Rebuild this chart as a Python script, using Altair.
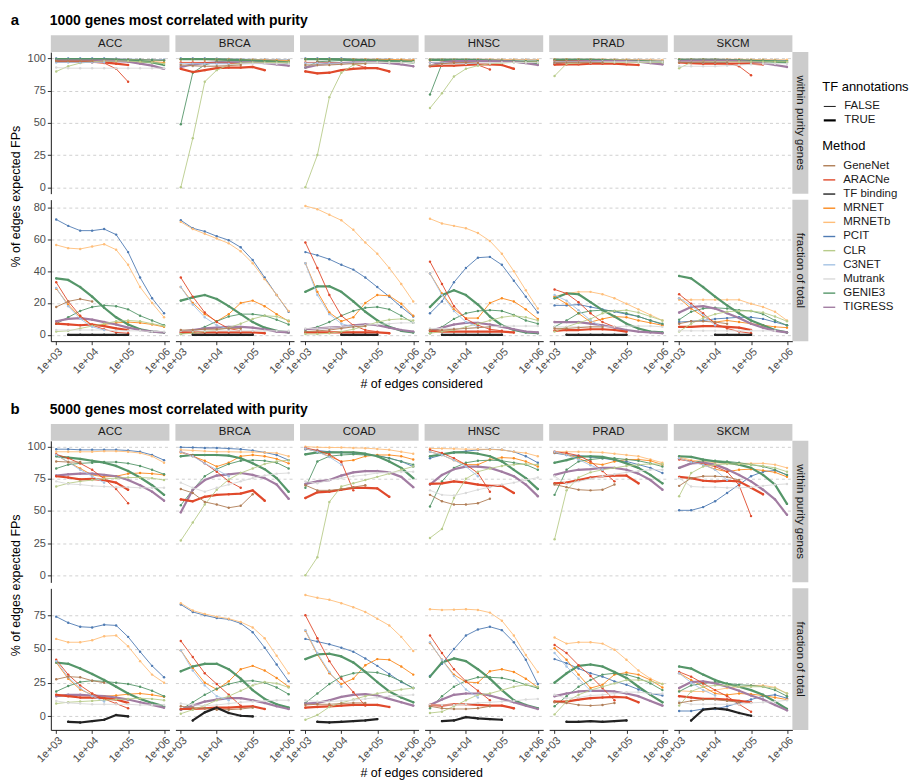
import altair as alt
import pandas as pd

# ---------------- data ----------------
EDGES = [1000, 2154, 4642, 10000, 21544, 46416, 100000, 215443, 464159, 1000000]
CANCERS = ["ACC", "BRCA", "COAD", "HNSC", "PRAD", "SKCM"]
METHODS = ["GeneNet", "ARACNe", "TF binding", "MRNET", "MRNETb", "PCIT",
           "CLR", "C3NET", "Mutrank", "GENIE3", "TIGRESS"]
METHOD_COLORS = ["#B07D56", "#E0492B", "#222222", "#FB8A1E", "#FFBE7A", "#4F7BB3",
                 "#B8CC8B", "#A5C3E4", "#D9D9D9", "#559669", "#A27CA2"]
TF_LEVELS = ["FALSE", "TRUE"]
SECTION_TITLES = {"a": "1000 genes most correlated with purity",
                  "b": "5000 genes most correlated with purity"}
ROW_LABELS = {"within": "within purity genes", "fraction": "fraction of total"}
Y_TICKS = {("a", "within"): [0, 25, 50, 75, 100], ("a", "fraction"): [0, 20, 40, 60, 80],
           ("b", "within"): [0, 25, 50, 75, 100], ("b", "fraction"): [0, 25, 50, 75]}
X_TICKS = [1000, 10000, 100000, 1000000]

# key "Method*" = TF annotations TRUE ; None = no value at that edge count
A_WITHIN_ACC = {
    "PCIT": [100, 100, 100, 100, 100, 99.8, 99.5, 99.3, 99, 99],
    "MRNETb": [99.5, 99.5, 99.5, 99.5, 99.5, 99.5, 99.3, 99, 98.8, 98.5],
    "MRNET": [98.5, 98.5, 98.5, 98.5, 98.5, 98, 98, 97.5, 97.5, 97],
    "GENIE3": [99.5, 99.5, 99.5, 99.5, 99.5, 99.3, 99, 99, 98.8, 98.5],
    "GENIE3*": [99.5, 99.5, 99.5, 99.5, 99.5, 99, 98.5, 98, 97, 95],
    "TIGRESS*": [98.5, 98.5, 98.5, 98.5, 98.5, 98, 97.5, 96, 94.5, 92],
    "ARACNe": [98, 97.5, 97, 97, 96.5, 92, 82],
    "ARACNe*": [97.5, 97.5, 97.5, 97.5, 97, 96, 95],
    "CLR": [90, 94, 96.5, 97.5, 98, 98, 98, 97.5, 97, 96],
    "Mutrank": [93, 92.5, 92.5, 92.5, 92.5, 92.5, 92.5, 92.5, 92.5, 92.5],
    "C3NET": [97, 97, 97, 97, 97],
    "GeneNet": [98, 98, 98, 98],
}
A_WITHIN_BRCA = {
    "PCIT": [100, 100, 100, 99.8, 99.7, 99.5, 99.3, 99.2, 99, 98.8],
    "MRNETb": [99.5, 99.5, 99.5, 99.5, 99.5, 99.3, 99.2, 99, 98.8, 98.5],
    "MRNET": [99.5, 99.5, 99.3, 99, 99, 98.8, 98.5, 98.5, 98.3, 98],
    "GENIE3": [49, 89, 95, 97.5, 98, 98, 98, 98, 98, 97.5],
    "GENIE3*": [99.5, 99.5, 99.5, 99.3, 99, 98.8, 98.5, 98, 97.5, 96.5],
    "TIGRESS*": [93.5, 95.5, 96.5, 97, 97, 97, 97, 96.5, 95.5, 94.5],
    "ARACNe": [97, 97, 97, 96.5, 96.5, 96],
    "ARACNe*": [92, 89.5, 91, 92.5, 93, 93, 93.5, 91],
    "CLR": [0, 38, 82, 91, 95, 96.5, 97, 97, 97, 97],
    "Mutrank": [95, 94, 94, 94.5, 95, 95.5, 96, 96, 96, 96],
    "C3NET": [96, 96, 96, 96, 96],
    "GeneNet": [95, 94.5, 94, 94, 94.5, 95],
}
A_WITHIN_COAD = {
    "PCIT": [100, 100, 100, 100, 99.5, 99.5, 99.5, 99.5, 99, 99],
    "MRNETb": [99.5, 99.5, 99.5, 99.5, 99.5, 99.5, 99.5, 99.3, 99.2, 99],
    "MRNET": [99.5, 99.5, 99.5, 99.3, 99.2, 99, 99, 99, 98.8, 98.5],
    "GENIE3": [93, 97.5, 98, 98.5, 98.5, 98.5, 98.5, 98.5, 98.3, 98],
    "GENIE3*": [99.5, 99.5, 99.5, 99.3, 99, 98.8, 98.5, 98, 97.5, 97],
    "TIGRESS*": [93, 95, 96, 96.5, 97, 97, 97, 96.5, 95.5, 94],
    "ARACNe": [97, 97, 97, 96.5, 96, 93],
    "ARACNe*": [90, 88.5, 89, 91, 92, 92.5, 92.5, 90],
    "CLR": [0, 25, 70, 89, 95, 96.5, 97, 97, 97, 97],
    "Mutrank": [95, 95, 95.5, 96, 96.5, 97, 97, 97, 97, 97],
    "C3NET": [96.5, 96.5, 96.5, 96.5, 96.5],
    "GeneNet": [95, 95, 95, 95.5, 96, 96],
}
A_WITHIN_HNSC = {
    "PCIT": [99.5, 99.5, 99.5, 99.5, 99.5, 99.3, 99.2, 99, 99, 98.8],
    "MRNETb": [99.5, 99.5, 99.5, 99.5, 99.5, 99.5, 99.3, 99.2, 99, 99],
    "MRNET": [98.5, 98.5, 98.5, 98.5, 98.3, 98, 98, 97.8, 97.5, 97.5],
    "GENIE3": [72, 96, 98, 98.5, 98.5, 98.5, 98.5, 98.3, 98, 98],
    "GENIE3*": [99, 99, 99, 99, 98.8, 98.5, 98, 97.5, 97, 96.5],
    "TIGRESS*": [94.5, 97, 98, 98, 98, 98, 97.8, 97.5, 96.5, 95],
    "ARACNe": [97, 97, 97, 96.5, 95, 91.5],
    "ARACNe*": [94, 94.5, 94.5, 95, 95.5, 95.5, 95, 92],
    "CLR": [61.5, 73, 86, 92, 94.5, 96, 96.5, 97, 97, 97],
    "Mutrank": [95, 95.5, 96, 96, 96.5, 96.5, 97, 97, 97, 97],
    "C3NET": [97, 97, 96.5, 96.5, 96],
    "GeneNet": [94.5, 96, 96.5, 97, 96.5],
}
A_WITHIN_PRAD = {
    "PCIT": [99.5, 99.5, 99.5, 99.5, 99.3, 99.2, 99, 99, 98.8, 98.5],
    "MRNETb": [99.5, 99.5, 99.5, 99.5, 99.5, 99.3, 99.2, 99, 99, 98.8],
    "MRNET": [99, 99, 99, 98.8, 98.5, 98.5, 98.3, 98, 98, 97.5],
    "GENIE3": [96, 97, 97.5, 98, 98, 98, 98, 98, 98, 97.5],
    "GENIE3*": [99, 99, 99, 99, 98.8, 98.5, 98.3, 98, 97.5, 97],
    "TIGRESS*": [96.5, 97.5, 98, 98, 98, 98, 98, 97.5, 96.5, 95.5],
    "ARACNe": [98, 98, 98, 97.5, 97, 96],
    "ARACNe*": [95.3, 95.5, 95.5, 96, 96, 96, 95.5, 95],
    "CLR": [86.5, 96, 96.5, 97, 97, 97, 97, 97, 97, 97],
    "Mutrank": [97, 97, 97, 97, 97.5, 97.5, 97.5, 97.5, 97.5, 97.5],
    "C3NET": [97.5, 97.5, 97.5, 97.5, 97.5],
    "GeneNet": [97, 97, 97, 97, 97],
}
A_WITHIN_SKCM = {
    "PCIT": [99.5, 99.5, 99.5, 99.5, 99.3, 99.2, 99, 99, 98.8, 98.5],
    "MRNETb": [99.5, 99.5, 99.5, 99.5, 99.5, 99.5, 99.3, 99.2, 99, 99],
    "MRNET": [99, 99, 99, 98.8, 98.5, 98.5, 98.3, 98, 97.8, 97.5],
    "GENIE3": [99, 99, 99, 99, 98.8, 98.8, 98.5, 98.5, 98.3, 98],
    "GENIE3*": [99, 99, 99, 99, 98.8, 98.5, 98.3, 98, 97.5, 97],
    "TIGRESS*": [98, 98.5, 98.5, 98.5, 98.5, 98, 97.5, 96.5, 95, 93.5],
    "ARACNe": [97.5, 97.5, 97.5, 97, 96.5, 94, 87],
    "ARACNe*": [97, 96.5, 96, 96, 96, 96, 96, 95.5],
    "CLR": [92.5, 97, 97.5, 97.5, 97.5, 97.5, 97.5, 97.5, 97.5, 97.5],
    "Mutrank": [94, 94, 94, 94, 94.5, 95, 95.5, 96, 96, 96],
    "C3NET": [97.5, 97.5, 97, 97, 97],
    "GeneNet": [97, 97, 97, 97, 97],
}
A_FRACTION_ACC = {
    "PCIT": [72.5, 68.5, 65.5, 65.5, 66.5, 63, 52, 36, 23, 13.5],
    "MRNETb": [56.5, 54.5, 54, 55.5, 57, 53.5, 44, 30, 20, 11],
    "MRNET": [29, 19, 11, 6, 6.5, 7.5, 8, 7.5, 6.5, 5],
    "GENIE3": [7, 11, 15, 17.5, 18.5, 18, 16, 12, 9, 6],
    "GENIE3*": [35.5, 34.5, 30, 24, 17, 11, 6.5, 3.5, 2, 1.5],
    "TIGRESS*": [8.5, 10, 10.5, 9.5, 8, 6.5, 4.5, 3, 2, 1.5],
    "ARACNe": [33, 21, 12, 6, 3.5, 1.5, 1],
    "ARACNe*": [7, 6.5, 6, 6.5, 5.5, 4, 3],
    "CLR": [2, 2.5, 4, 5.5, 7, 8.5, 9, 8.5, 7, 5.5],
    "Mutrank": [3, 3, 3, 3, 3, 2.5, 2.5, 2.5, 2, 2],
    "C3NET": [29.5, 18, 10, 5, 3],
    "GeneNet": [17.5, 21, 22.5, 21],
    "TF binding*": [None, 0, 0, 0, 0, 0, 0],
}
A_FRACTION_BRCA = {
    "PCIT": [72, 67, 65, 62, 59.5, 55, 47, 36, 25, 14.5],
    "MRNETb": [71, 66.5, 63.5, 60.5, 57.5, 52.5, 45, 35, 25, 15],
    "MRNET": [30, 20, 13, 8.5, 13, 20, 21.5, 18, 13, 8.5],
    "GENIE3": [0.5, 2, 5, 8.5, 11.5, 13, 13, 12, 9.5, 6.5],
    "GENIE3*": [21.5, 23.5, 25, 22.5, 18, 13, 8, 4.5, 2.5, 1.5],
    "TIGRESS*": [2, 3, 4, 4.5, 5, 5, 4.5, 3.5, 2, 1.5],
    "ARACNe": [36, 24, 14, 8, 4, 2.5],
    "ARACNe*": [1.5, 1.5, 1.5, 1.5, 1.5, 1.5, 1.5, 1],
    "CLR": [0.5, 1, 2, 3, 4.5, 7, 10, 12, 11.5, 9],
    "Mutrank": [2.5, 2.5, 2.5, 2.5, 2.5, 2.5, 2.5, 2.5, 2.5, 2.5],
    "C3NET": [30, 19, 11, 6, 3.5],
    "GeneNet": [3, 3, 3.5, 3.5, 4, 4],
    "TF binding*": [None, 0, 0, 0, 0, 0, 0],
}
A_FRACTION_COAD = {
    "PCIT": [52, 50, 47.5, 44, 41, 36, 30, 24, 17.5, 11.5],
    "MRNETb": [81, 79, 75.5, 72, 66, 58, 51, 42, 32, 21],
    "MRNET": [45, 27, 14, 8.5, 11, 20, 25, 24.5, 19.5, 12],
    "GENIE3": [3, 5, 8, 12, 15, 17, 17.5, 16, 12, 7.5],
    "GENIE3*": [27, 30.5, 30.5, 27, 21, 14.5, 9, 5, 2.5, 1.5],
    "TIGRESS*": [3.5, 4, 4.5, 5, 6, 6.5, 6, 4.5, 3, 2],
    "ARACNe": [58, 42, 25, 12, 6, 3, 2],
    "ARACNe*": [1.5, 1.5, 1.5, 1.5, 1.5, 1.5, 1.5, 1],
    "CLR": [0.5, 0.5, 1, 2, 3.5, 5.5, 8, 9.5, 10, 9],
    "Mutrank": [4, 4, 4.5, 5, 5.5, 6, 6.5, 7, 7.5, 7.5],
    "C3NET": [45, 25, 13, 7, 5],
    "GeneNet": [2, 2.5, 3, 4, 5, 5.5],
    "TF binding*": [None, None, None, 0, 0, 0, 0],
}
A_FRACTION_HNSC = {
    "PCIT": [13.5, 21, 33, 42, 48.5, 49, 44, 34, 24, 14],
    "MRNETb": [73, 70, 68.5, 67, 64, 59, 51, 40, 28, 16.5],
    "MRNET": [38.5, 26, 16, 10.5, 10.5, 20, 23, 21, 16, 10],
    "GENIE3": [1, 5, 10, 13.5, 15, 15.5, 15, 12.5, 9, 7],
    "GENIE3*": [17.5, 25, 28, 25, 19, 11.5, 6, 3, 1.5, 1],
    "TIGRESS*": [2.5, 4.5, 6.5, 7.5, 7.5, 6.5, 5, 3.5, 2, 1.5],
    "ARACNe": [46, 32, 18, 10, 6, 3.5, 2.5],
    "ARACNe*": [2.5, 2, 2, 2, 2, 2, 2, 1.5],
    "CLR": [1, 2, 3, 5, 7, 9, 11, 12, 11, 9],
    "Mutrank": [4, 4, 4, 4, 4.5, 5, 5.5, 5.5, 5.5, 5.5],
    "C3NET": [38.5, 25, 15, 8, 5],
    "GeneNet": [3, 3, 3.5, 4, 4.5, 5],
    "TF binding*": [None, 0, 0, 0, 0, 0, 0],
}
A_FRACTION_PRAD = {
    "PCIT": [18.5, 18.5, 19, 17.5, 16, 14.5, 13, 11.5, 9, 6.5],
    "MRNETb": [24, 26, 27, 27, 25.5, 23, 19.5, 16, 12.5, 9],
    "MRNET": [24, 19.5, 13.5, 8, 10, 11.5, 11, 9, 7.5, 6],
    "GENIE3": [5, 9, 13.5, 15, 15.5, 15, 13.5, 11.5, 9, 7],
    "GENIE3*": [23, 26, 25.5, 20.5, 15.5, 11.5, 7, 4, 2, 1.5],
    "TIGRESS*": [8, 8, 8, 7, 6, 4.5, 3, 2, 1.5, 1],
    "ARACNe": [28.5, 26, 20.5, 13.5, 8, 5],
    "ARACNe*": [2.5, 3, 3, 3.5, 3.5, 3, 2],
    "CLR": [2, 5, 7.5, 10, 13.5, 15, 15.5, 14, 11.5, 9],
    "Mutrank": [5, 5, 5, 5, 5, 5, 5.5, 5.5, 5.5, 5],
    "C3NET": [25, 21.5, 15.5, 9, 5],
    "GeneNet": [4, 4, 4.5, 5, 5],
    "TF binding*": [None, 0, 0, 0, 0, 0, 0],
}
A_FRACTION_SKCM = {
    "PCIT": [8, 8.5, 9, 10, 10.5, 11, 11, 10, 8, 6],
    "MRNETb": [22, 22, 22, 22, 22, 22, 19.5, 17.5, 14.5, 9],
    "MRNET": [23, 16.5, 11.5, 8, 9, 8, 7, 6, 5, 4.5],
    "GENIE3": [9.5, 14.5, 16.5, 17, 16.5, 15.5, 15, 13, 9, 6],
    "GENIE3*": [37, 35.5, 30, 24, 18.5, 13.5, 9, 6, 3, 1.5],
    "TIGRESS*": [14, 17.5, 18, 16.5, 13.5, 10.5, 7, 4.5, 2.5, 1.5],
    "ARACNe": [25.5, 19.5, 13.5, 7, 4, 2, 1],
    "ARACNe*": [5, 5, 5.5, 5.5, 5, 4.5, 3],
    "CLR": [2, 7, 10.5, 13, 14.5, 15, 15, 14, 11.5, 8.5],
    "Mutrank": [2.5, 2.5, 2.5, 2.5, 2.5, 2.5, 2.5, 2.5, 2.5],
    "C3NET": [23, 18.5, 12.5, 6],
    "GeneNet": [7, 8.5, 8.5, 8, 7],
    "TF binding*": [None, None, None, 0, 0, 0, 0],
}
B_WITHIN_ACC = {
    "PCIT": [98, 98, 97.5, 97.5, 97.5, 97.5, 97, 96, 93.5, 89.5],
    "MRNETb": [96, 96, 96, 96, 96.5, 96.5, 96, 95, 92.5, 87.5],
    "MRNET": [93.5, 88, 83, 78, 76.5, 77, 79, 79.5, 79, 78],
    "GENIE3": [83, 86, 87, 87.5, 88, 88, 87, 85, 82, 78.5],
    "GENIE3*": [92.5, 91.5, 90.5, 89, 87.5, 85, 81, 76, 70, 62.5],
    "TIGRESS*": [77.5, 78.5, 79, 79, 78, 77, 74, 70, 65, 58],
    "ARACNe": [94, 91, 87, 82, 75, 67, 56],
    "ARACNe*": [77, 76, 74.5, 75, 74, 72, 66.5],
    "CLR": [69, 71.5, 73, 74, 75, 75.5, 76, 76, 75.5, 74],
    "Mutrank": [73, 71, 70.5, 69.5, 69, 68.5, 68.5, 68, 68, 68],
    "C3NET": [93.5, 88, 82, 77, 72],
    "GeneNet": [88.5, 88, 88],
}
B_WITHIN_BRCA = {
    "PCIT": [99.5, 99.3, 99, 99, 98.5, 98, 97, 95.5, 93.5, 89.5],
    "MRNETb": [97.5, 97, 96.5, 96, 96, 95.8, 95.8, 95.5, 95, 92.5],
    "MRNET": [95.5, 92.5, 89, 84.5, 87.5, 92.5, 93.5, 92.5, 90.5, 87],
    "GENIE3": [54.5, 66.5, 77, 82.5, 86.5, 89, 89.5, 89, 87.5, 83],
    "GENIE3*": [92.5, 93.5, 93.5, 93.5, 93, 91, 87, 82.5, 75.5, 65],
    "TIGRESS*": [49, 66.5, 74, 77.5, 78.5, 79.5, 78, 75.5, 70.5, 59.5],
    "ARACNe": [96, 93, 87, 80.5, 73, 68],
    "ARACNe*": [59, 57.5, 61, 62.5, 63, 63.5, 66, 58],
    "CLR": [27, 41, 55, 66.5, 74.5, 79.5, 83, 86.5, 88.5, 89.5],
    "Mutrank": [72, 68, 65, 68, 70.5, 73, 75.5, 77.5, 79, 79.5],
    "C3NET": [96, 92.5, 87, 82, 77],
    "GeneNet": [67, 64, 57, 55, 52.5, 54, 63],
}
B_WITHIN_COAD = {
    "PCIT": [98, 97, 96, 95.5, 95, 94, 93, 91, 88.5, 84.5],
    "MRNETb": [100, 99.5, 99.3, 99.3, 99, 98.8, 98.2, 97.5, 96, 94.5],
    "MRNET": [98.5, 96, 92.5, 88.5, 89.5, 92.5, 93.5, 93.5, 92.5, 90],
    "GENIE3": [68, 88.5, 92.5, 93.5, 94, 93.5, 93, 91, 88.5, 86],
    "GENIE3*": [94, 95.5, 95.5, 95.5, 95.5, 94.5, 92.5, 88.5, 83.5, 75.5],
    "TIGRESS*": [71, 73, 74, 77.5, 80, 81, 81, 80, 76.5, 68.5],
    "ARACNe": [99, 97, 94, 88, 66],
    "ARACNe*": [60, 64.5, 65, 66.5, 68, 68, 67.5, 61],
    "CLR": [0, 14, 57, 69, 71.5, 74, 76.5, 79, 82, 84.5],
    "Mutrank": [73, 71.5, 74, 75.5, 77, 78, 79.5, 80, 80.5, 80.5],
    "C3NET": [98.5, 96, 92, 86],
    "GeneNet": [70, 66, 66, 67, 68.5, 70],
}
B_WITHIN_HNSC = {
    "PCIT": [91, 93.5, 95.5, 96.5, 97.5, 98, 97.5, 96, 92.5, 87.5],
    "MRNETb": [98.5, 98.5, 98.3, 98, 98, 97.8, 97.5, 96, 95, 92.5],
    "MRNET": [96, 93.5, 89.5, 86, 86, 90, 91.5, 91, 88.5, 84.5],
    "GENIE3": [53.5, 73, 83.5, 87.5, 89, 89.5, 89, 87.5, 86, 82],
    "GENIE3*": [92.5, 94, 95.5, 95.5, 94.5, 92.5, 88.5, 82, 75.5, 67],
    "TIGRESS*": [70.5, 78, 82.5, 84.5, 84.5, 83.5, 80.5, 77, 70.5, 61.5],
    "ARACNe": [97.5, 95, 91, 86, 79.5, 65],
    "ARACNe*": [71, 71.5, 73, 72, 70.5, 69.5, 69.5, 64],
    "CLR": [29, 36, 60, 75, 80.5, 83, 85, 86, 86.5, 86],
    "Mutrank": [66, 62.5, 62, 64, 66.5, 68.5, 70.5, 72, 74, 76],
    "C3NET": [96, 93.5, 89.5, 84.5, 77],
    "GeneNet": [62.5, 57.5, 55, 55, 56, 59.5],
}
B_WITHIN_PRAD = {
    "PCIT": [95, 93.5, 93, 92, 91, 89.5, 88.5, 86, 83.5, 79.5],
    "MRNETb": [96, 96, 96, 95.8, 95.5, 94.5, 93.5, 92.5, 90, 87.5],
    "MRNET": [95.5, 94, 91, 87, 86, 88.5, 90, 90, 89, 86],
    "GENIE3": [62.5, 82, 88.5, 90, 91, 91, 90, 89, 87, 84.5],
    "GENIE3*": [87.5, 89.5, 92, 92.5, 92, 90, 87, 83.5, 78, 71.5],
    "TIGRESS*": [78, 80.5, 82, 82.5, 83.5, 83.5, 82, 79, 74, 66.5],
    "ARACNe": [96, 95, 93, 88.5, 81, 73],
    "ARACNe*": [71.5, 72, 74, 76, 77, 77.5, 77.5, 71.5],
    "CLR": [28, 66, 76, 80, 82, 83.5, 85, 86, 86.5, 86.5],
    "Mutrank": [77, 71, 73, 75, 77, 78.5, 80, 81, 82, 82],
    "C3NET": [96, 93.5, 90, 85.5, 82],
    "GeneNet": [70.5, 68.5, 66.5, 66, 66.5, 70.5],
}
B_WITHIN_SKCM = {
    "PCIT": [50.5, 50.5, 53, 57.5, 64, 70.5, 77, 80.5, 81.5, 78],
    "MRNETb": [92, 89.5, 88.5, 87.5, 87, 87, 87, 87, 86, 83.5],
    "MRNET": [91, 88.5, 86, 82.5, 80.5, 82, 82.5, 81.5, 80, 76.5],
    "GENIE3": [83.5, 87.5, 89, 89, 88.5, 87.5, 86, 84.5, 82, 78],
    "GENIE3*": [92.5, 92, 90, 88.5, 87.5, 86, 83.5, 78, 70.5, 55.5],
    "TIGRESS*": [83.5, 87, 87.5, 86, 82.5, 78, 73, 66.5, 59, 47],
    "ARACNe": [90, 88.5, 86.5, 84.5, 80.5, 70, 46],
    "ARACNe*": [76.5, 75.5, 73.5, 73, 73.5, 73, 68, 63],
    "CLR": [61.5, 79.5, 84.5, 86, 86.5, 86.5, 86, 85, 83.5, 80.5],
    "Mutrank": [75.5, 69, 68.5, 68.5, 68, 68, 68.5, 69.5, 70.5, 71],
    "C3NET": [91, 88, 86, 82, 74],
    "GeneNet": [69.5, 75.5, 77, 77, 76.5, 74],
}
B_FRACTION_ACC = {
    "PCIT": [74, 69.5, 66.5, 66, 68, 67.5, 59, 48, 37.5, 29],
    "MRNETb": [57.5, 55, 55, 56.5, 59.5, 60, 52, 41, 31, 25],
    "MRNET": [40, 28, 20, 16, 15, 15.5, 16.5, 17, 16, 14.5],
    "GENIE3": [18.5, 22.5, 25.5, 26.5, 26, 25, 24, 22, 19, 15],
    "GENIE3*": [40, 39, 35.5, 31.5, 27, 22, 17, 13, 10, 7.5],
    "TIGRESS*": [15, 16, 16, 15.5, 15, 14, 12.5, 10.5, 8.5, 6.5],
    "ARACNe": [42, 31, 23, 17, 13, 9.5, 6],
    "ARACNe*": [16, 15, 14, 14, 13.5, 12.5, 10],
    "CLR": [9.5, 10.5, 11, 11.5, 12, 12.5, 13, 13.5, 13, 12],
    "Mutrank": [11.5, 10, 9.5, 9, 9, 9, 9, 8.5, 8.5, 8.5],
    "C3NET": [41, 29, 21, 15, 11],
    "GeneNet": [27.5, 29.5, 29, 26.5, 25],
    "TF binding*": [None, -4, -4.5, -3.5, -2.5, 1, 0],
}
B_FRACTION_BRCA = {
    "PCIT": [83, 77.5, 75, 73, 72, 69, 62.5, 51, 38.5, 26],
    "MRNETb": [84, 78.5, 76, 74, 72.5, 70, 66, 58, 45, 32],
    "MRNET": [49, 36, 25, 20, 26, 35, 37.5, 34, 28.5, 22],
    "GENIE3": [5, 10.5, 16, 20.5, 24, 26, 26.5, 25, 21.5, 16.5],
    "GENIE3*": [33.5, 37, 39, 39, 35, 28, 19.5, 13, 9, 6.5],
    "TIGRESS*": [5, 8, 11, 12.5, 13.5, 13.5, 12, 10, 7.5, 5.5],
    "ARACNe": [56, 44, 32, 24, 16, 8],
    "ARACNe*": [5.5, 5.5, 6, 6.5, 6.5, 7, 7.5, 5.5],
    "CLR": [2, 5, 8, 12, 15, 19, 23, 25.5, 24.5, 21.5],
    "Mutrank": [9.5, 8.5, 8, 8.5, 9.5, 10.5, 11, 11.5, 12, 12],
    "C3NET": [49, 34, 23, 15, 12],
    "GeneNet": [7.5, 6.5, 6, 5, 5, 5.5, 6.5],
    "TF binding*": [None, -3, 3, 6.5, 2.5, 0.5, 0],
}
B_FRACTION_COAD = {
    "PCIT": [57.5, 55.5, 53.5, 51, 48, 43, 37.5, 31.5, 25.5, 21],
    "MRNETb": [90, 88, 86.5, 84, 81, 77.5, 72.5, 67.5, 59, 48.5],
    "MRNET": [63.5, 46, 32, 24, 28, 38, 42.5, 42, 37, 31],
    "GENIE3": [10, 17, 24, 29.5, 32, 33, 32.5, 30, 26, 21],
    "GENIE3*": [42.5, 46, 46.5, 44.5, 40, 33, 25.5, 18.5, 14, 10.5],
    "TIGRESS*": [9.5, 10, 12, 14.5, 16, 16.5, 15.5, 13, 10.5, 8],
    "ARACNe": [75, 58, 41, 28, 18, 8],
    "ARACNe*": [6.5, 7, 7.5, 8, 8.5, 8.5, 8.5, 7],
    "CLR": [-2.5, 1, 7, 10, 12.5, 15, 17, 18.5, 20, 21],
    "Mutrank": [12, 11, 11, 11.5, 12, 13, 14, 15, 15.5, 16],
    "C3NET": [64, 47, 33, 22],
    "GeneNet": [8.5, 9, 9, 9.5, 10, 10],
    "TF binding*": [None, -4, -4.5, -4, -3.5, -3, -2],
}
B_FRACTION_HNSC = {
    "PCIT": [30, 39, 50, 60, 64.5, 66.5, 64, 55, 42, 24],
    "MRNETb": [79.5, 79, 79.2, 79.5, 79, 77, 71, 60, 45.5, 33],
    "MRNET": [54.5, 42, 31, 25.5, 25, 33.5, 35, 33, 28, 21.5],
    "GENIE3": [6, 15, 22, 26.5, 29, 29, 28.5, 26.5, 23.5, 21],
    "GENIE3*": [29.5, 40, 43, 41, 35, 28, 19.5, 12, 8.5, 6],
    "TIGRESS*": [8.5, 12.5, 16, 17, 17, 15.5, 13, 10.5, 8, 5.5],
    "ARACNe": [60, 47, 35, 26, 19, 12],
    "ARACNe*": [8.5, 8, 9, 9, 8.5, 8, 8, 6],
    "CLR": [2.5, 3.5, 7.5, 12, 16, 17, 19.5, 22, 23.5, 22],
    "Mutrank": [8.5, 8.5, 8.5, 9, 10, 10.5, 11, 11.5, 12.5, 13],
    "C3NET": [55, 42, 30, 20, 14],
    "GeneNet": [7.5, 6, 5.5, 5.5, 6, 7.5],
    "TF binding*": [None, -3.5, -3, -0.5, -1.5, -2, -2.5],
}
B_FRACTION_PRAD = {
    "PCIT": [42.5, 39.5, 35.5, 32, 29.5, 26, 23.5, 20, 17, 15.5],
    "MRNETb": [58.5, 54, 55, 55, 54, 49.5, 42, 34, 28, 24],
    "MRNET": [50.5, 42, 31, 21, 23.5, 31, 32.5, 31, 27, 21.5],
    "GENIE3": [7.5, 15, 22, 27, 31, 32, 31, 28.5, 24.5, 19.5],
    "GENIE3*": [25, 32, 37.5, 38.5, 37, 33, 28.5, 22, 16, 10.5],
    "TIGRESS*": [15, 17, 18.5, 19, 19, 18.5, 17, 15, 11.5, 8],
    "ARACNe": [53, 47, 38, 30, 21, 12],
    "ARACNe*": [11, 11, 12.5, 13.5, 14, 14.5, 14, 10.5],
    "CLR": [1.5, 11, 16, 19.5, 22, 24.5, 27, 27, 26, 24],
    "Mutrank": [16, 13.5, 14, 15.5, 16, 17, 18, 18, 17, 17],
    "C3NET": [47, 37, 28, 19],
    "GeneNet": [10.5, 10, 8.5, 8, 8.5, 10],
    "TF binding*": [None, -4, -4, -3.5, -4, -3.5, -3],
}
B_FRACTION_SKCM = {
    "PCIT": [4, 4, 5.5, 5.5, 7.5, 10, 12.5, 15, 16, 13.5],
    "MRNETb": [19, 18.5, 18.5, 19.5, 21, 22, 23, 23, 21.5, 17],
    "MRNET": [32, 27, 22, 17, 16, 17, 16.5, 15.5, 14, 12.5],
    "GENIE3": [18.5, 23, 24.5, 25.5, 24.5, 23.5, 23, 22, 19.5, 15],
    "GENIE3*": [37, 35.5, 31, 27, 24, 22, 19.5, 16, 11, 5.5],
    "TIGRESS*": [21, 25.5, 26, 24.5, 22, 19, 15.5, 12.5, 8.5, 4.5],
    "ARACNe": [33, 29.5, 24.5, 19.5, 15, 9, 3.5],
    "ARACNe*": [15, 14, 13, 13, 12.5, 11.5, 10.5],
    "CLR": [8, 18.5, 22, 23, 23, 22, 22, 22, 21, 17],
    "Mutrank": [11, 9, 9, 9, 9, 9, 10, 10.5, 11, 12],
    "C3NET": [32, 25, 19.5, 15.5],
    "GeneNet": [10, 11.5, 12.5, 12.5, 11.5, 10.5],
    "TF binding*": [None, -3, 5, 6, 5, 2.5, 0.5],
}

PANEL_DATA = {
    ("a", "within"): [A_WITHIN_ACC, A_WITHIN_BRCA, A_WITHIN_COAD, A_WITHIN_HNSC, A_WITHIN_PRAD, A_WITHIN_SKCM],
    ("a", "fraction"): [A_FRACTION_ACC, A_FRACTION_BRCA, A_FRACTION_COAD, A_FRACTION_HNSC, A_FRACTION_PRAD, A_FRACTION_SKCM],
    ("b", "within"): [B_WITHIN_ACC, B_WITHIN_BRCA, B_WITHIN_COAD, B_WITHIN_HNSC, B_WITHIN_PRAD, B_WITHIN_SKCM],
    ("b", "fraction"): [B_FRACTION_ACC, B_FRACTION_BRCA, B_FRACTION_COAD, B_FRACTION_HNSC, B_FRACTION_PRAD, B_FRACTION_SKCM],
}

# ---------------- layout / style ----------------
FONT = "Liberation Sans"
W, H = 119, 142
Y_DOMAINS = {("a", "within"): [-5, 105], ("a", "fraction"): [-4, 85],
             ("b", "within"): [-5.5, 104.5], ("b", "fraction"): [-10, 95]}
X_DOMAIN = [10 ** 2.85, 10 ** 6.15]
ONE = pd.DataFrame({"k": [0]})


def series_frame(d):
    rows = []
    for key, vals in d.items():
        tf = "TRUE" if key.endswith("*") else "FALSE"
        m = key.rstrip("*")
        for i, v in enumerate(vals):
            if v is None:
                continue
            rows.append({"edges": EDGES[i], "value": v, "Method": m, "TF": tf})
    return pd.DataFrame(rows)


COLOR_LEGEND = alt.Legend(title="Method", orient="none", legendX=774, legendY=88,
                          symbolType="stroke", symbolStrokeWidth=1.4, symbolSize=144,
                          labelFontSize=11.5, titleFontSize=13, titleFontWeight="normal",
                          labelFont=FONT, titleFont=FONT, rowPadding=1.2, labelOffset=7,
                          titlePadding=6, padding=0, labelColor="#1a1a1a", titleColor="#000000")
TF_LEGEND = alt.Legend(title="TF annotations", orient="none", legendX=774, legendY=29,
                       symbolType="stroke", symbolStrokeColor="#000000", symbolSize=144,
                       labelFontSize=11.5, titleFontSize=13, titleFontWeight="normal",
                       labelFont=FONT, titleFont=FONT, rowPadding=1, labelOffset=7,
                       titlePadding=6, padding=0, labelColor="#1a1a1a", titleColor="#000000")


def color_enc():
    return alt.Color("Method:N", scale=alt.Scale(domain=METHODS, range=METHOD_COLORS),
                     legend=COLOR_LEGEND)


def text_layer(text, x, y, angle=0, size=11.5, weight="normal", align="center", color="#1a1a1a"):
    return alt.Chart(ONE).mark_text(text=text, angle=angle, fontSize=size, fontWeight=weight,
                                    align=align, baseline="middle", color=color, font=FONT
                                    ).encode(x=alt.value(x), y=alt.value(y))


def box_layer(x, x2, y, y2, fill):
    return alt.Chart(ONE).mark_rect(fill=fill).encode(
        x=alt.value(x), x2=alt.value(x2), y=alt.value(y), y2=alt.value(y2))


def panel(sec, row, ci):
    key = (sec, row)
    df = series_frame(PANEL_DATA[key][ci])
    first = ci == 0
    yaxis = alt.Axis(values=Y_TICKS[key], grid=True, gridDash=[3, 3], gridColor="#c4c4c4",
                     gridWidth=0.8, title=None, labels=first, ticks=first, domain=first,
                     domainColor="#1a1a1a", domainWidth=1, tickColor="#333333", tickSize=3.5,
                     labelFontSize=11, labelColor="#4d4d4d", labelPadding=2, labelFont=FONT)
    if row == "fraction":
        xaxis = alt.Axis(values=X_TICKS, labelExpr="'1e+0' + round(log(datum.value) / LN10)",
                         labelAngle=-45, labelAlign="right", labelBaseline="top", grid=False,
                         title=None, domainColor="#1a1a1a", domainWidth=1, tickColor="#333333",
                         tickSize=3.5, labelFontSize=11, labelColor="#4d4d4d", labelPadding=1,
                         labelFont=FONT, labelFlush=False, labelOverlap=False)
    else:
        xaxis = None
    x = alt.X("edges:Q", scale=alt.Scale(type="log", domain=X_DOMAIN, nice=False), axis=xaxis)
    y = alt.Y("value:Q", scale=alt.Scale(domain=Y_DOMAINS[key], nice=False, zero=False), axis=yaxis)
    base = alt.Chart(df)
    lines = base.mark_line(strokeJoin="round", strokeCap="round").encode(
        x=x, y=y, color=color_enc(),
        strokeWidth=alt.StrokeWidth("TF:O", scale=alt.Scale(domain=TF_LEVELS, range=[0.9, 2.2]),
                                    legend=TF_LEGEND))
    pts = base.mark_circle(size=6, opacity=1).encode(x=x, y=y, color=color_enc())
    layers = [lines, pts]
    if row == "within":
        layers += [box_layer(0, W, -17, 0, "#cccccc"),
                   text_layer(CANCERS[ci], W / 2, -8.5, size=11.5)]
    if ci == 5:
        layers += [box_layer(W, W + 16, 0, H, "#cccccc"),
                   text_layer(ROW_LABELS[row], W + 8, H / 2, angle=90, size=11.5)]
    if first and row == "within":
        layers += [box_layer(-51, -50, -51, -50, "#ffffff"),
                   text_layer(sec, -36, -32, size=15, weight="bold", color="#000000"),
                   text_layer(SECTION_TITLES[sec], -1, -31, size=14, weight="bold",
                              align="left", color="#000000"),
                   text_layer("% of edges expected FPs", -35, H + 3, angle=270, size=12.5,
                              color="#000000")]
    if row == "fraction" and ci == 2:
        layers.append(text_layer("# of edges considered", 122, 185, size=12.5, color="#000000"))
    return alt.layer(*layers).properties(width=W, height=H)


def spacer():
    return alt.Chart(ONE).mark_point(opacity=0).encode(
        x=alt.value(0), y=alt.value(0)).properties(width=W, height=88)


cells = []
for sec in ["a", "b"]:
    for row in ["within", "fraction"]:
        for ci in range(6):
            cells.append(panel(sec, row, ci))
    if sec == "a":
        cells += [spacer() for _ in range(6)]

chart = alt.concat(*cells, columns=6, spacing=6, bounds="flush", padding=0).resolve_scale(
    x="independent", y="independent").configure(font=FONT).configure_view(stroke=None)

chart.save("out.html", embed_options={"renderer": "svg", "actions": False})
